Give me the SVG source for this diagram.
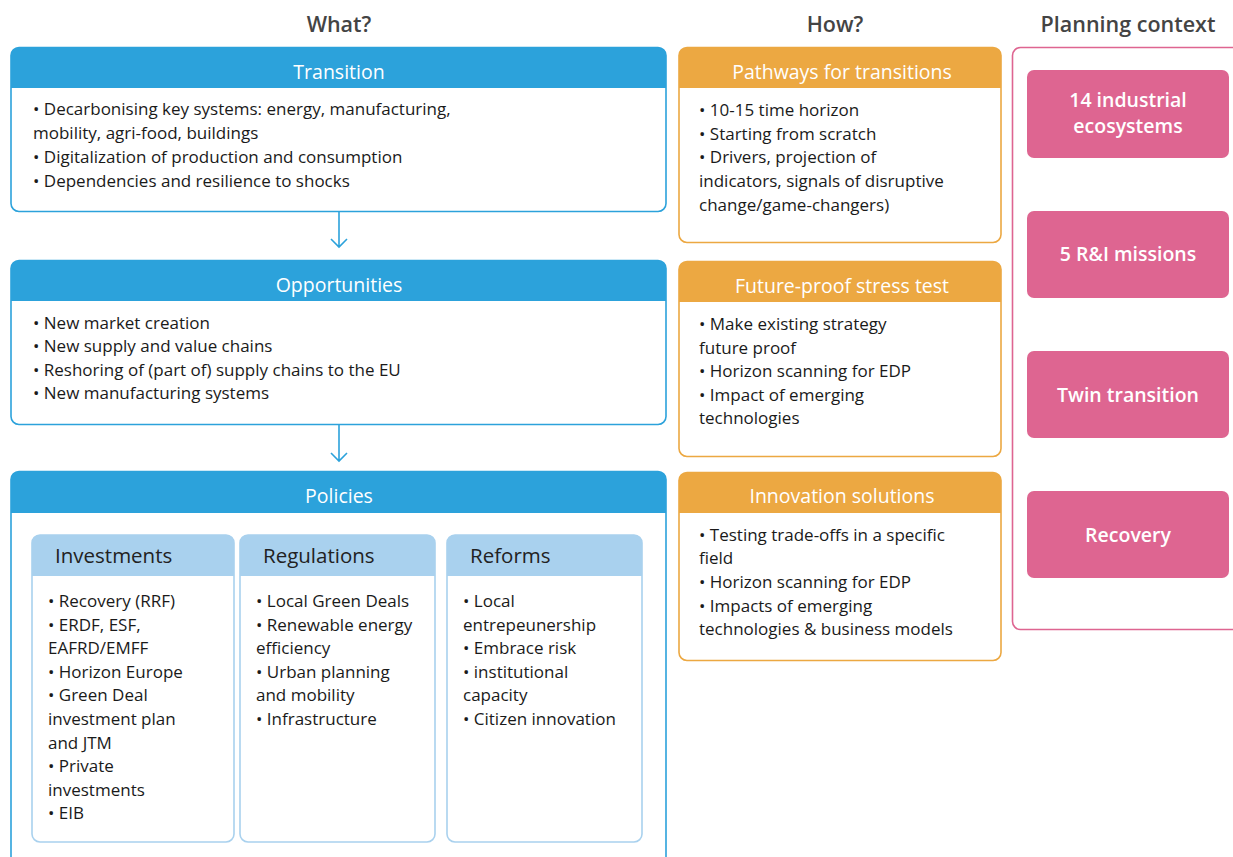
<svg xmlns="http://www.w3.org/2000/svg" width="1233" height="857" viewBox="0 0 1233 857">
<style>
.col{font-family:"Open Sans","Liberation Sans",sans-serif;font-size:21.5px;fill:#444;text-anchor:middle;font-weight:600}
.box{fill:#fff;stroke-width:1.6}
.bb{stroke:#2ca2db}
.ob{stroke:#eca842}
.sb{stroke:#a9d1ee;stroke-width:1.6;fill:#fff}
.hb{fill:#2ca2db}
.ho{fill:#eca842}
.hs{fill:#a9d1ee}
.ht{font-family:"Open Sans","Liberation Sans",sans-serif;font-size:19.5px;fill:#fff;text-anchor:middle}
.st{font-family:"Open Sans","Liberation Sans",sans-serif;font-size:20.5px;fill:#222}
.tx{font-family:"Open Sans","Liberation Sans",sans-serif;font-size:17px;fill:#1a1a1a}
.pk{fill:#de6591}
.pt{font-family:"Open Sans","Liberation Sans",sans-serif;font-size:19.5px;fill:#fff;text-anchor:middle;font-weight:600}
.con{stroke:#2ca2db;stroke-width:1.6;fill:none}
</style>
<rect width="1233" height="857" fill="#fff"/>
<text class="col" x="339" y="32">What?</text>
<text class="col" x="835" y="32">How?</text>
<text class="col" x="1128" y="32">Planning context</text>

<g id="transition">
<rect class="box bb" x="11" y="47.5" width="655" height="164" rx="8"/>
<path class="hb" d="M11,88 V55.5 a8,8 0 0 1 8,-8 H658 a8,8 0 0 1 8,8 V88 Z"/>
<text class="ht" x="339" y="79">Transition</text>
<text class="tx" x="33" y="115">• Decarbonising key systems: energy, manufacturing,</text>
<text class="tx" x="33" y="139">mobility, agri-food, buildings</text>
<text class="tx" x="33" y="163">• Digitalization of production and consumption</text>
<text class="tx" x="33" y="187">• Dependencies and resilience to shocks</text>
</g>

<g id="opportunities">
<rect class="box bb" x="11" y="260.5" width="655" height="164" rx="8"/>
<path class="hb" d="M11,301 V268.5 a8,8 0 0 1 8,-8 H658 a8,8 0 0 1 8,8 V301 Z"/>
<text class="ht" x="339" y="292">Opportunities</text>
<text class="tx" x="33" y="329">• New market creation</text>
<text class="tx" x="33" y="352">• New supply and value chains</text>
<text class="tx" x="33" y="376">• Reshoring of (part of) supply chains to the EU</text>
<text class="tx" x="33" y="399">• New manufacturing systems</text>
</g>

<g id="policies">
<rect class="box bb" x="11" y="471.5" width="655" height="400" rx="8"/>
<path class="hb" d="M11,513 V479.5 a8,8 0 0 1 8,-8 H658 a8,8 0 0 1 8,8 V513 Z"/>
<text class="ht" x="339" y="503">Policies</text>
</g>

<g id="investments">
<rect class="sb" x="32" y="535" width="202" height="307" rx="8"/>
<path class="hs" d="M32,576 V543 a8,8 0 0 1 8,-8 H226 a8,8 0 0 1 8,8 V576 Z"/>
<text class="st" x="55" y="563">Investments</text>
<text class="tx" x="48" y="607">• Recovery (RRF)</text>
<text class="tx" x="48" y="631">• ERDF, ESF,</text>
<text class="tx" x="48" y="654">EAFRD/EMFF</text>
<text class="tx" x="48" y="678">• Horizon Europe</text>
<text class="tx" x="48" y="701">• Green Deal</text>
<text class="tx" x="48" y="725">investment plan</text>
<text class="tx" x="48" y="749">and JTM</text>
<text class="tx" x="48" y="772">• Private</text>
<text class="tx" x="48" y="796">investments</text>
<text class="tx" x="48" y="819">• EIB</text>
</g>

<g id="regulations">
<rect class="sb" x="240" y="535" width="195" height="307" rx="8"/>
<path class="hs" d="M240,576 V543 a8,8 0 0 1 8,-8 H427 a8,8 0 0 1 8,8 V576 Z"/>
<text class="st" x="263" y="563">Regulations</text>
<text class="tx" x="256" y="607">• Local Green Deals</text>
<text class="tx" x="256" y="631">• Renewable energy</text>
<text class="tx" x="256" y="654">efficiency</text>
<text class="tx" x="256" y="678">• Urban planning</text>
<text class="tx" x="256" y="701">and mobility</text>
<text class="tx" x="256" y="725">• Infrastructure</text>
</g>

<g id="reforms">
<rect class="sb" x="447" y="535" width="195" height="307" rx="8"/>
<path class="hs" d="M447,576 V543 a8,8 0 0 1 8,-8 H634 a8,8 0 0 1 8,8 V576 Z"/>
<text class="st" x="470" y="563">Reforms</text>
<text class="tx" x="463" y="607">• Local</text>
<text class="tx" x="463" y="631">entrepeunership</text>
<text class="tx" x="463" y="654">• Embrace risk</text>
<text class="tx" x="463" y="678">• institutional</text>
<text class="tx" x="463" y="701">capacity</text>
<text class="tx" x="463" y="725">• Citizen innovation</text>
</g>

<g id="pathways">
<rect class="box ob" x="679" y="47.5" width="322" height="195" rx="8"/>
<path class="ho" d="M679,88 V55.5 a8,8 0 0 1 8,-8 H993 a8,8 0 0 1 8,8 V88 Z"/>
<text class="ht" x="842" y="79">Pathways for transitions</text>
<text class="tx" x="699" y="116">• 10-15 time horizon</text>
<text class="tx" x="699" y="140">• Starting from scratch</text>
<text class="tx" x="699" y="163">• Drivers, projection of</text>
<text class="tx" x="699" y="187">indicators, signals of disruptive</text>
<text class="tx" x="699" y="211">change/game-changers)</text>
</g>

<g id="stresstest">
<rect class="box ob" x="679" y="261.5" width="322" height="195" rx="8"/>
<path class="ho" d="M679,302 V269.5 a8,8 0 0 1 8,-8 H993 a8,8 0 0 1 8,8 V302 Z"/>
<text class="ht" x="842" y="293">Future-proof stress test</text>
<text class="tx" x="699" y="330">• Make existing strategy</text>
<text class="tx" x="699" y="354">future proof</text>
<text class="tx" x="699" y="377">• Horizon scanning for EDP</text>
<text class="tx" x="699" y="401">• Impact of emerging</text>
<text class="tx" x="699" y="424">technologies</text>
</g>

<g id="innovation">
<rect class="box ob" x="679" y="472.5" width="322" height="188" rx="8"/>
<path class="ho" d="M679,513 V480.5 a8,8 0 0 1 8,-8 H993 a8,8 0 0 1 8,8 V513 Z"/>
<text class="ht" x="842" y="503">Innovation solutions</text>
<text class="tx" x="699" y="541">• Testing trade-offs in a specific</text>
<text class="tx" x="699" y="564">field</text>
<text class="tx" x="699" y="588">• Horizon scanning for EDP</text>
<text class="tx" x="699" y="612">• Impacts of emerging</text>
<text class="tx" x="699" y="635">technologies &amp; business models</text>
</g>

<g id="planning">
<rect x="1012.5" y="47.5" width="240" height="582" rx="8" fill="#fff" stroke="#de6591" stroke-width="1.6"/>
</g>
<g id="ecosystems">
<rect class="pk" x="1027" y="70" width="202" height="88" rx="7"/>
<text class="pt" x="1128" y="107">14 industrial</text>
<text class="pt" x="1128" y="133">ecosystems</text>
</g>
<g id="missions">
<rect class="pk" x="1027" y="211" width="202" height="87" rx="7"/>
<text class="pt" x="1128" y="261">5 R&amp;I missions</text>
</g>
<g id="twin">
<rect class="pk" x="1027" y="351" width="202" height="87" rx="7"/>
<text class="pt" x="1128" y="402">Twin transition</text>
</g>
<g id="recovery">
<rect class="pk" x="1027" y="491" width="202" height="87" rx="7"/>
<text class="pt" x="1128" y="542">Recovery</text>
</g>

<g id="connectors">
<path class="con" d="M339,212 V247 M331,239 L339,247 L347,239"/>
<path class="con" d="M339,425 V461 M331,453 L339,461 L347,453"/>
</g>
</svg>
